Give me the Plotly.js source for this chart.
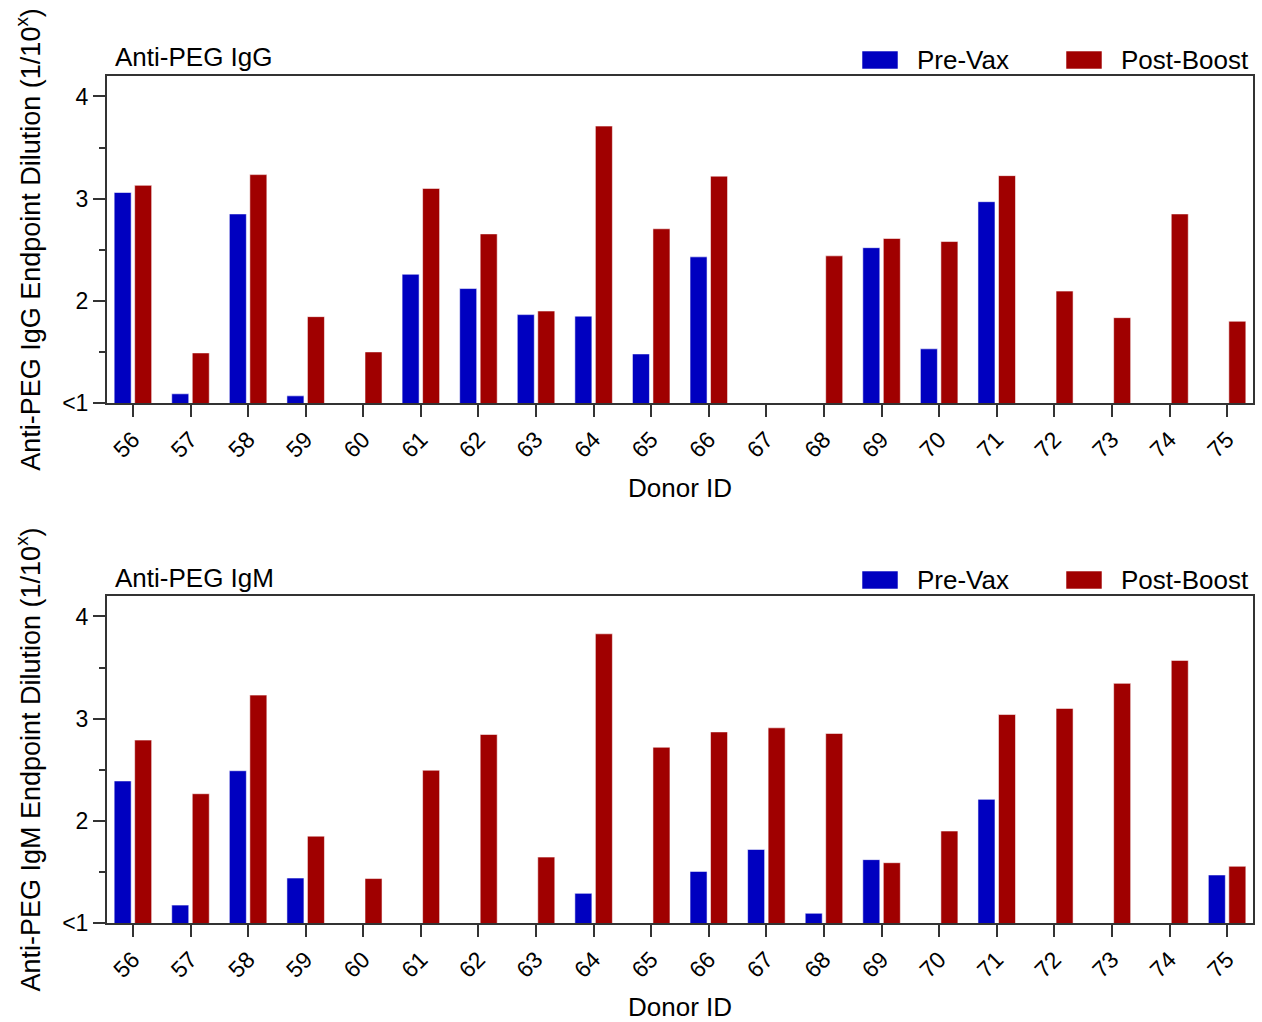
<!DOCTYPE html>
<html>
<head>
<meta charset="utf-8">
<script src="https://cdn.plot.ly/plotly-3.0.1.min.js"></script>
<style>html,body{margin:0;padding:0;background:#fff;}#chart{width:1262px;height:1022px;}</style>
</head>
<body>
<div id="chart"></div>
<script>
// ---- data ----
const donors = ["56","57","58","59","60","61","62","63","64","65","66","67","68","69","70","71","72","73","74","75"];
const iggPreVax    = [3.06, 1.09, 2.85, 1.07, null, 2.26, 2.12, 1.865, 1.85, 1.48, 2.43, null, null, 2.52, 1.53, 2.97, null, null, null, null];
const iggPostBoost = [3.13, 1.49, 3.235, 1.845, 1.50, 3.10, 2.655, 1.90, 3.71, 2.705, 3.22, null, 2.44, 2.61, 2.58, 3.225, 2.095, 1.835, 2.85, 1.80];
const igmPreVax    = [2.39, 1.175, 2.49, 1.44, null, null, null, null, 1.29, null, 1.505, 1.72, 1.095, 1.62, null, 2.21, null, null, null, 1.47];
const igmPostBoost = [2.79, 2.265, 3.23, 1.85, 1.435, 2.495, 2.845, 1.645, 3.83, 2.72, 2.87, 2.91, 2.855, 1.59, 1.90, 3.04, 3.10, 3.345, 3.57, 1.555];
const yTickVals = [1, 2, 3, 4];
const yTickText = ["<1", "2", "3", "4"];
const yMinorVals = [1.5, 2.5, 3.5];
const seriesNames = ["Pre-Vax", "Post-Boost"];
const panelTitles = ["Anti-PEG IgG", "Anti-PEG IgM"];
const yTitles = ["Anti-PEG IgG Endpoint Dilution (1/10<sup>x</sup>)", "Anti-PEG IgM Endpoint Dilution (1/10<sup>x</sup>)"];

const BLUE = "#0000C0", RED = "#A00000";
const FONT = "Liberation Sans, Arial, Helvetica, sans-serif";

function bar(y, name, color, xa, ya) {
  return {
    type: "bar", x: donors, y: y, name: name, xaxis: xa, yaxis: ya,
    marker: {color: color, line: {color: "rgba(255,255,255,0.55)", width: 1}},
    showlegend: false
  };
}

const data = [
  bar(iggPreVax, seriesNames[0], BLUE, "x", "y"),
  bar(iggPostBoost, seriesNames[1], RED, "x", "y"),
  bar(igmPreVax, seriesNames[0], BLUE, "x2", "y2"),
  bar(igmPostBoost, seriesNames[1], RED, "x2", "y2")
];

function xAxis(anchor) {
  return {
    type: "category", anchor: anchor, range: [-0.45, 19.45],
    showline: true, linecolor: "#333", linewidth: 2, mirror: true,
    ticks: "outside", ticklen: 12, tickwidth: 2, tickcolor: "#333",
    tickangle: -45, tickfont: {size: 23, color: "#000", family: FONT},
    showgrid: false, zeroline: false, fixedrange: true,
    title: {text: "Donor ID", font: {size: 26, color: "#000", family: FONT}, standoff: 17}
  };
}
function yAxis(anchor, domain, title) {
  return {
    anchor: anchor, domain: domain, range: [1, 4.2],
    showline: true, linecolor: "#333", linewidth: 2, mirror: true,
    tickmode: "array", tickvals: yTickVals, ticktext: yTickText,
    ticks: "outside", ticklen: 12, tickwidth: 2, tickcolor: "#333",
    tickfont: {size: 23, color: "#000", family: FONT},
    minor: {tickvals: yMinorVals, ticks: "outside", ticklen: 6, tickwidth: 2, tickcolor: "#333", showgrid: false},
    showgrid: false, zeroline: false, fixedrange: true,
    title: {text: title, font: {size: 27, color: "#000", family: FONT}, standoff: 14}
  };
}

// pixel helpers for legend/title placement (paper coords)
const L = 107, R = 1253, T = 76, B = 923;
const px = v => (v - L) / (R - L);
const py = v => (B - v) / (B - T);

const shapes = [], annotations = [];
[[60, 57], [580, 578]].forEach((rowY, i) => {
  const sy = rowY[0];
  annotations.push({xref: "paper", yref: "paper", x: px(113), y: py(rowY[1]), xanchor: "left", yanchor: "middle",
    text: panelTitles[i], showarrow: false, font: {size: 26, color: "#000", family: FONT}});
  [[862, 898, 917, BLUE, 0], [1066, 1102, 1121, RED, 1]].forEach(s => {
    shapes.push({type: "rect", xref: "paper", yref: "paper", x0: px(s[0]), x1: px(s[1]), y0: py(sy + 9), y1: py(sy - 9),
      fillcolor: s[3], line: {color: "rgba(255,255,255,0.55)", width: 1}});
    annotations.push({xref: "paper", yref: "paper", x: px(s[2]), y: py(sy), xanchor: "left", yanchor: "middle",
      text: seriesNames[s[4]], showarrow: false, xshift: -2, font: {size: 26, color: "#000", family: FONT}});
  });
});

const topDomain = [(B - 403) / (B - T), 1];
const botDomain = [0, (B - 596) / (B - T)];

const layout = {
  width: 1262, height: 1022,
  margin: {l: L, r: 1262 - R, t: T, b: 1022 - B},
  paper_bgcolor: "#fff", plot_bgcolor: "#fff",
  font: {family: FONT, color: "#000"},
  barmode: "group", bargap: 0.288, bargroupgap: 0.17,
  showlegend: false,
  xaxis: xAxis("y"),
  xaxis2: xAxis("y2"),
  yaxis: yAxis("x", topDomain, yTitles[0]),
  yaxis2: yAxis("x2", botDomain, yTitles[1]),
  shapes: shapes, annotations: annotations
};

Plotly.newPlot("chart", data, layout, {displayModeBar: false, staticPlot: true});
</script>
</body>
</html>
